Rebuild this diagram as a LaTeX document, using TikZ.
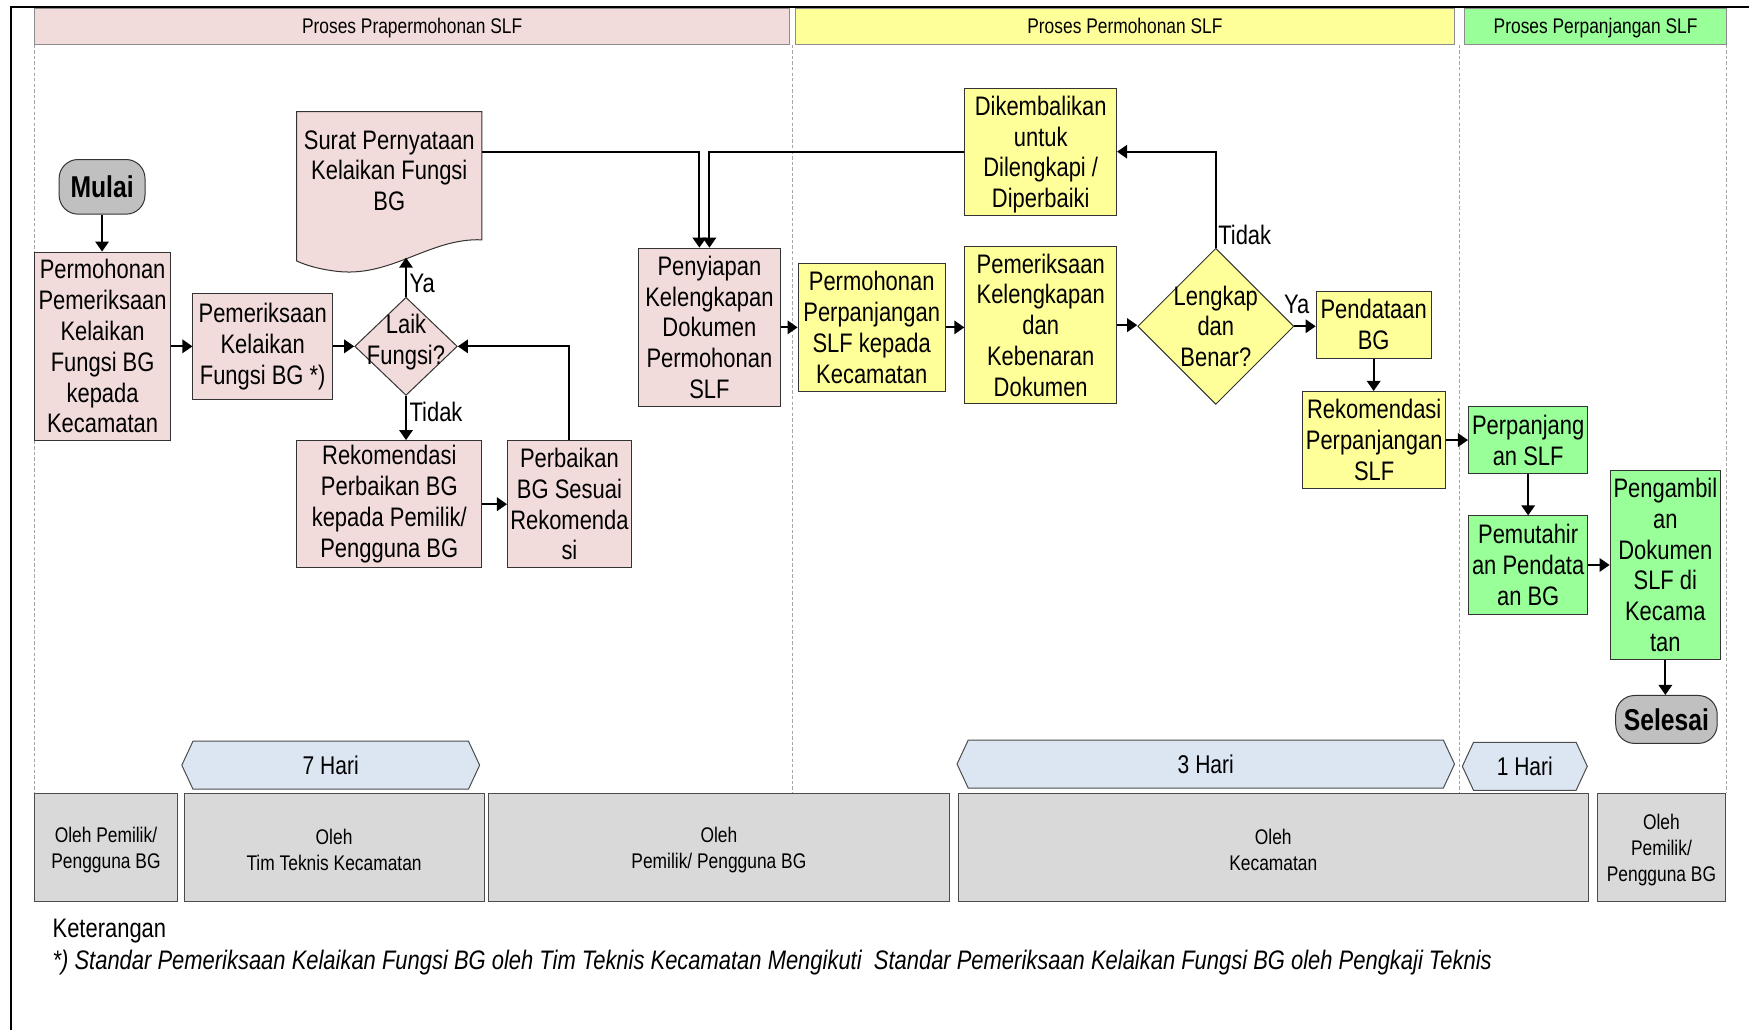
\documentclass[tikz,border=0pt]{standalone}
\usepackage{fontspec}
\setmainfont{Liberation Sans}[FakeStretch=0.82]
\usetikzlibrary{shapes.geometric,arrows.meta,calc}
\definecolor{pinkc}{HTML}{F2DCDB}
\definecolor{yelc}{HTML}{FFFF99}
\definecolor{grnc}{HTML}{99FF99}
\definecolor{termc}{HTML}{C0C0C0}
\definecolor{haric}{HTML}{DCE6F2}
\definecolor{botc}{HTML}{D9D9D9}
\newcommand{\fsz}[2]{\fontsize{#1}{#2}\selectfont}
\newcommand{\hexband}[5]{%
  \draw[hexstyle] (#2,#4) -- (#2+10,#4-21.5) -- (#3-10,#4-21.5) -- (#3,#4) -- (#3-10,#4+21.5) -- (#2+10,#4+21.5) -- cycle;
  \node[font=\fsz{23}{27}] (#1) at ({(#2+#3)/2},#4) {#5};}
\tikzset{
  boxbase/.style={draw=black!80, line width=0.9pt, align=center, inner sep=0.5pt, font=\fsz{24}{27.6}},
  pbox/.style={boxbase, fill=pinkc},
  ybox/.style={boxbase, fill=yelc},
  gbox/.style={boxbase, fill=grnc},
  term/.style={draw=black!80, line width=0.9pt, fill=termc, rounded corners=17pt, font=\fsz{27}{30}\bfseries, inner sep=0pt},
  dia/.style={diamond, draw=black!80, line width=0.9pt, inner sep=0pt},
  txt/.style={align=center, font=\fsz{24}{27.6}},
  lbl/.style={anchor=west, font=\fsz{24}{27.6}, inner sep=1pt},
  hdr/.style={draw=black!45, line width=0.9pt, inner sep=0pt, minimum height=32},
  hdrtxt/.style={font=\fsz{19}{22}, inner sep=0pt, text height=14pt, text depth=4pt},
  bbox/.style={draw=black!70, line width=0.9pt, fill=botc, minimum height=97, align=center, font=\fsz{19}{24}, inner sep=0pt},
  hexstyle/.style={draw=black!70, line width=0.9pt, fill=haric},
  lane/.style={draw=black!35, dash pattern=on 3pt off 2pt, line width=0.6pt},
  arr/.style={draw=black, line width=1.8pt, -{Triangle[length=9pt,width=12pt]}},
  docstyle/.style={draw=black!80, line width=0.9pt, fill=pinkc}
}
\begin{document}
\begin{tikzpicture}[x=1pt,y=-1pt]
\useasboundingbox (0,0) rectangle (1568,923);
% frame
\draw[line width=1.6pt] (10,940) -- (10,6) -- (1580,6);
% lanes
\draw[lane] (31,40) -- (31,711);
\draw[lane] (710,40) -- (710,711);
\draw[lane] (1308,40) -- (1308,711);
\draw[lane] (1548,40) -- (1548,711);
% headers
\node[hdr, fill=pinkc, minimum width=677] (h1) at (369.5,24) {};
\node[hdrtxt] (h1t) at (369.5,25) {Proses Prapermohonan SLF};
\node[hdr, fill=yelc, minimum width=591] (h2) at (1008.5,24) {};
\node[hdrtxt] (h2t) at (1008.5,25) {Proses Permohonan SLF};
\node[hdr, fill=grnc, minimum width=235] (h3) at (1430.5,24) {};
\node[hdrtxt] (h3t) at (1430.5,25) {Proses Perpanjangan SLF};
% nodes
\node[term, minimum width=77, minimum height=49] (mulai) at (91.5,167.5) {Mulai};
\node[pbox, minimum width=122, minimum height=169] (perm) at (92,310.5) {Permohonan\\Pemeriksaan\\Kelaikan\\Fungsi BG\\kepada\\Kecamatan};
\node[pbox, minimum width=125, minimum height=95] (pem) at (235.5,310.5) {Pemeriksaan\\Kelaikan\\Fungsi BG *)};
\node[dia, fill=pinkc, minimum width=92, minimum height=88] (laik) at (364,310.5) {};
\node[txt] (laiktxt) at (364,307) {Laik\\Fungsi?};
\draw[docstyle] (266,100) -- (432,100) -- (432,215) .. controls (385,213) and (350,250) .. (300,243) .. controls (285,241) and (275,238) .. (266,234) -- cycle;
\node[txt] (surat) at (349,153) {Surat Pernyataan\\Kelaikan Fungsi\\BG};
\coordinate (suratbot) at (364,231);
\coordinate (suratR) at (432,136);
\node[pbox, minimum width=166, minimum height=114] (rekper) at (349,452) {Rekomendasi\\Perbaikan BG\\kepada Pemilik/\\Pengguna BG};
\node[pbox, minimum width=111, minimum height=114] (perb) at (510.5,452) {Perbaikan\\BG Sesuai\\Rekomenda\\si};
\node[pbox, minimum width=127, minimum height=142] (peny) at (636,293.5) {Penyiapan\\Kelengkapan\\Dokumen\\Permohonan\\SLF};
\node[ybox, minimum width=132, minimum height=115] (ppsk) at (781.5,293.5) {Permohonan\\Perpanjangan\\SLF kepada\\Kecamatan};
\node[ybox, minimum width=136, minimum height=141] (pkkd) at (933,291.5) {Pemeriksaan\\Kelengkapan\\dan\\Kebenaran\\Dokumen};
\node[ybox, minimum width=136, minimum height=114] (dik) at (933,136) {};
\node[txt] (diktxt) at (933,138.5) {Dikembalikan\\untuk\\Dilengkapi /\\Diperbaiki};
\node[dia, fill=yelc, minimum width=140, minimum height=140] (lengkap) at (1090,292.5) {};
\node[txt] (lengkaptxt) at (1090,292.5) {Lengkap\\dan\\Benar?};
\node[ybox, minimum width=103, minimum height=60] (pend) at (1231.5,291) {Pendataan\\BG};
\node[ybox, minimum width=128, minimum height=87] (rekp) at (1232,394.5) {Rekomendasi\\Perpanjangan\\SLF};
\node[gbox, minimum width=107, minimum height=60] (perp) at (1370,394.5) {Perpanjang\\an SLF};
\node[gbox, minimum width=107, minimum height=88] (pemut) at (1370,506.5) {Pemutahir\\an Pendata\\an BG};
\node[gbox, minimum width=99, minimum height=170] (ambil) at (1493,506.5) {Pengambil\\an\\Dokumen\\SLF di\\Kecama\\tan};
\node[term, minimum width=91, minimum height=43] (sel) at (1494,645) {Selesai};
% connectors
\draw[arr] (mulai.south) -- (mulai.south |- perm.north);
\draw[arr] (perm.east) -- (pem.west);
\draw[arr] (pem.east) -- (laik.west);
\draw[arr] (laik.north) -- (suratbot);
\node[lbl] (ya1) at (366,254) {Ya};
\draw[arr] (laik.south) -- (laik.south |- rekper.north);
\node[lbl] (tidak1) at (366,369) {Tidak};
\draw[arr] (rekper.east) -- (perb.west);
\draw[arr] (perb.north) |- (laik.east);
\draw[arr] (suratR) -| ([xshift=-9pt]peny.north);
\draw[arr] (dik.west) -| (peny.north);
\draw[arr] (peny.east) -- (peny.east -| ppsk.west);
\draw[arr] (ppsk.east) -- (ppsk.east -| pkkd.west);
\draw[arr] (pkkd.east) -- (pkkd.east -| lengkap.west);
\draw[arr] (lengkap.east) -- (lengkap.east -| pend.west);
\node[lbl] (ya2) at (1150,273) {Ya};
\draw[arr] (lengkap.north) |- (dik.east);
\node[lbl] (tidak2) at (1091,211) {Tidak};
\draw[arr] (pend.south) -- (pend.south |- rekp.north);
\draw[arr] (rekp.east) -- (rekp.east -| perp.west);
\draw[arr] (perp.south) -- (perp.south |- pemut.north);
\draw[arr] (pemut.east) -- (pemut.east -| ambil.west);
\draw[arr] (ambil.south) -- (ambil.south |- sel.north);
% time bands
\hexband{hari7}{163}{430}{686}{7 Hari}
\hexband{hari3}{858}{1304}{685}{3 Hari}
\hexband{hari1}{1311}{1423}{687}{1 Hari}
% bottom boxes
\node[bbox, minimum width=128] (b1) at (95,760) {};
\node[align=center, font=\fsz{19}{24}] (b1t) at (95,762) {Oleh Pemilik/\\Pengguna BG};
\node[bbox, minimum width=269] (b2) at (299.5,760) {};
\node[align=center, font=\fsz{19}{24}] (b2t) at (299.5,762) {Oleh\\Tim Teknis Kecamatan};
\node[bbox, minimum width=413] (b3) at (644.5,760) {};
\node[align=center, font=\fsz{19}{24}] (b3t) at (644.5,762) {Oleh\\Pemilik/ Pengguna BG};
\node[bbox, minimum width=565] (b4) at (1141.5,760) {};
\node[align=center, font=\fsz{19}{24}] (b4t) at (1141.5,762) {Oleh\\Kecamatan};
\node[bbox, minimum width=115] (b5) at (1489.5,760) {};
\node[align=center, font=\fsz{19}{23}] (b5t) at (1489.5,762) {Oleh\\Pemilik/\\Pengguna BG};
% notes
\node[anchor=west, font=\fsz{24}{28}, inner sep=0pt] (ket) at (47,835) {Keterangan};
\node[anchor=west, font=\fsz{24}{28}\itshape, inner sep=0pt] (fn) at (47,863) {*) Standar Pemeriksaan Kelaikan Fungsi BG oleh Tim Teknis Kecamatan Mengikuti\ \ Standar Pemeriksaan Kelaikan Fungsi BG oleh Pengkaji Teknis};
\end{tikzpicture}
\end{document}
